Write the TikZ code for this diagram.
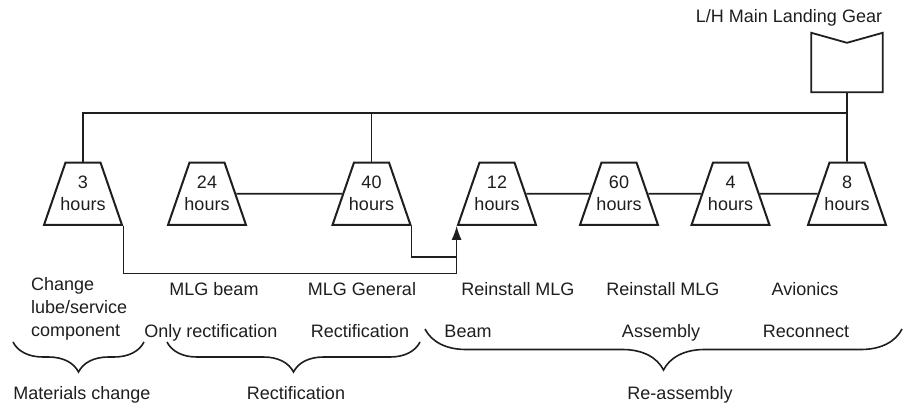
\documentclass[tikz,border=0pt]{standalone}
\usepackage{fontspec}
\setmainfont{Liberation Sans}
\usepackage{tikz}
\usetikzlibrary{shapes.geometric, arrows.meta, decorations.pathreplacing}
\definecolor{ink}{HTML}{1E1E1E}
\tikzset{
    task/.style={draw=ink, trapezium, trapezium angle=71, line width=2pt, inner xsep=-5pt, inner ysep=13.8pt, align=center, text=ink, font=\fontsize{18}{22}\selectfont},
    bus/.style={draw=ink, line width=1.8pt},
    link/.style={draw=ink, line width=1.2pt},
    arrow/.style={link, -{Latex[length=14pt, width=10pt]}},
    lbl/.style={inner sep=0pt, anchor=base, text=ink, font=\fontsize{18}{23}\selectfont},
    group/.style={draw=ink, line width=1.6pt, decorate, decoration={brace, mirror, amplitude=#1}}
}

\begin{document}
\begin{tikzpicture}[x=1pt, y=-1pt]
\useasboundingbox (0,0) rectangle (904,404);
% landing gear
\node[minimum width=71pt, minimum height=59pt, inner sep=0pt] (gear) at (847,62.5) {};
\draw[bus, line join=miter] (gear.north west) -- ([yshift=-10pt]gear.north) -- (gear.north east) -- (gear.south east) -- (gear.south west) -- cycle;
\node[lbl] (gearlbl) at (789,23) {L/H Main Landing Gear};
\coordinate (busline) at (0,113);

% tasks
\node[task] (t3) at (83,193.75) {3\\hours};
\node[task] (t24) at (207,193.75) {24\\hours};
\node[task] (t40) at (371.5,193.75) {40\\hours};
\node[task] (t12) at (497,193.75) {12\\hours};
\node[task] (t60) at (619,193.75) {60\\hours};
\node[task] (t4) at (730.5,193.75) {4\\hours};
\node[task] (t8) at (847,193.75) {8\\hours};

\draw[bus] (gear.south) -- (t8.north);
\draw[bus] (t3.north) |- (t8.north |- busline);
\draw[bus] (t40.north) -- (t40.north |- busline);
\draw[bus] (t24) -- (t40);
\draw[bus] (t12) -- (t60);
\draw[bus] (t60) -- (t4);
\draw[bus] (t4) -- (t8);
\draw[arrow] (t3.bottom right corner) |- ([yshift=-47.5pt]t12.bottom left corner) -- (t12.bottom left corner);
\draw[link] (t40.bottom right corner) |- ([yshift=-31pt]t12.bottom left corner);

% task labels
\node[lbl, anchor=north west, align=left] (change) at (31,277.5) {Change\\lube/service\\component};
\node[lbl] (beam) at (214,295.5) {MLG beam};
\node[lbl] (general) at (362,295.5) {MLG General};
\node[lbl] (reinstA) at (518,295.5) {Reinstall MLG};
\node[lbl] (reinstB) at (663,295.5) {Reinstall MLG};
\node[lbl] (avionics) at (805,295.5) {Avionics};
\node[lbl] (only) at (211,337.5) {Only rectification};
\node[lbl] (rect) at (360,337.5) {Rectification};
\node[lbl] (beampart) at (468,337.5) {Beam};
\node[lbl] (assembly) at (661,337.5) {Assembly};
\node[lbl] (reconnect) at (806,337.5) {Reconnect};

% groups
\draw[group=30pt] (13,342) -- (144,342);
\draw[group=30pt] (167,342) -- (420,342);
\draw[group=41pt] (425,329) -- (902,329);
\node[lbl] (materials) at (82,399) {Materials change};
\node[lbl] (rectification) at (296,399) {Rectification};
\node[lbl] (reassembly) at (680,399) {Re-assembly};
\end{tikzpicture}
\end{document}
